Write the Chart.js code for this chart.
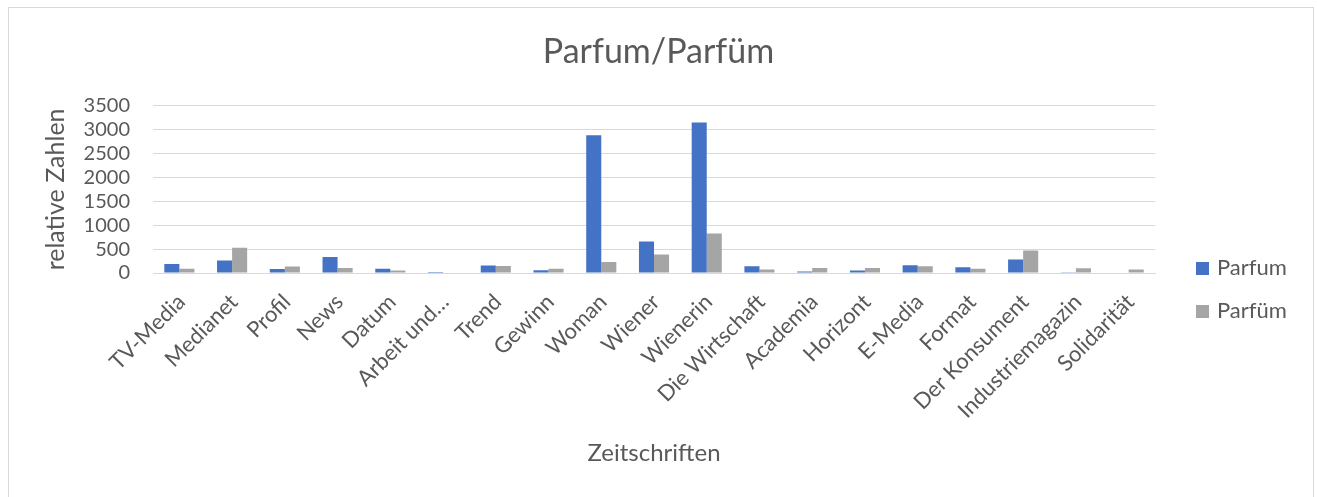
<!DOCTYPE html>
<html>
<head>
<meta charset="utf-8">
<title>Parfum/Parfüm</title>
<script src="https://cdn.jsdelivr.net/npm/chart.js@4"></script>
<style>
  html, body { margin: 0; padding: 0; background: #fff; }
  #wrap { position: relative; width: 1317px; height: 497px; }
</style>
</head>
<body>
<div id="wrap"><canvas id="chart"></canvas></div>
<script>
// data
const categories = ['TV-Media', 'Medianet', 'Profil', 'News', 'Datum', 'Arbeit und…', 'Trend', 'Gewinn',
  'Woman', 'Wiener', 'Wienerin', 'Die Wirtschaft', 'Academia', 'Horizont', 'E-Media', 'Format',
  'Der Konsument', 'Industriemagazin', 'Solidarität'];
const parfumValues = [190, 260, 85, 335, 90, 20, 155, 60, 2885, 660, 3150, 140, 30, 50, 160, 120, 280, 15, 0];
const parfuemValues = [90, 530, 135, 105, 50, 0, 145, 90, 230, 385, 825, 75, 105, 105, 140, 90, 470, 100, 75];
const yTicks = [0, 500, 1000, 1500, 2000, 2500, 3000, 3500];

const textColor = '#595959';
const fontFamily = 'Lato, "Noto Sans", sans-serif';

// light frame around the whole chart
const framePlugin = {
  id: 'frame',
  beforeDraw(chart) {
    const ctx = chart.ctx;
    ctx.save();
    ctx.strokeStyle = '#d9d9d9';
    ctx.lineWidth = 1;
    ctx.strokeRect(8.5, 7.5, 1305, 500);
    ctx.restore();
  }
};

// legend at the right, drawn from the datasets
const sideLegend = {
  id: 'sideLegend',
  afterDraw(chart) {
    const ctx = chart.ctx;
    ctx.save();
    ctx.font = '22px ' + fontFamily;
    ctx.textBaseline = 'middle';
    chart.data.datasets.forEach((ds, i) => {
      const y = 268 + i * 43;
      ctx.fillStyle = ds.backgroundColor;
      ctx.fillRect(1196, y - 6, 13, 13);
      ctx.fillStyle = textColor;
      ctx.fillText(ds.label, 1217, y);
    });
    ctx.restore();
  }
};

new Chart(document.getElementById('chart'), {
  type: 'bar',
  data: {
    labels: categories,
    datasets: [
      { label: 'Parfum', data: parfumValues, backgroundColor: '#4472C4' },
      { label: 'Parfüm', data: parfuemValues, backgroundColor: '#A5A5A5' }
    ]
  },
  options: {
    responsive: true,
    maintainAspectRatio: false,
    animation: false,
    categoryPercentage: 0.571,
    barPercentage: 1.0,
    layout: { padding: 0 },
    plugins: {
      legend: { display: false },
      tooltip: { enabled: false },
      title: {
        display: true,
        text: 'Parfum/Parfüm',
        color: textColor,
        font: { family: fontFamily, size: 34, weight: 'normal' },
        padding: { top: 32, bottom: 33 }
      }
    },
    scales: {
      x: {
        grid: { display: false },
        border: { display: true, color: '#d9d9d9' },
        ticks: {
          color: textColor,
          font: { family: fontFamily, size: 22 },
          minRotation: 45,
          maxRotation: 45,
          autoSkip: false,
          padding: 8,
          labelOffset: 2
        },
        title: {
          display: true,
          text: 'Zeitschriften',
          color: textColor,
          font: { family: fontFamily, size: 24 },
          padding: { top: 0, bottom: 29 }
        },
        afterFit(scale) { scale.height = 224; }
      },
      y: {
        min: 0,
        max: 3500,
        afterBuildTicks(scale) { scale.ticks = yTicks.map(v => ({ value: v })); },
        grid: { color: '#d9d9d9', drawTicks: false },
        border: { display: false },
        ticks: {
          color: textColor,
          font: { family: fontFamily, size: 20 },
          padding: 23,
          autoSkip: false,
          callback: (v) => String(v)
        },
        title: {
          display: true,
          text: 'relative Zahlen',
          color: textColor,
          font: { family: fontFamily, size: 25 },
          padding: { top: 41, bottom: 0 }
        },
        afterFit(scale) { scale.width = 153; }
      },
      // empty box on the right that keeps room for the legend
      side: {
        position: 'right',
        display: true,
        grid: { display: false },
        border: { display: false },
        ticks: { display: false },
        afterFit(scale) { scale.width = 162; }
      }
    }
  },
  plugins: [framePlugin, sideLegend]
});
</script>
</body>
</html>
